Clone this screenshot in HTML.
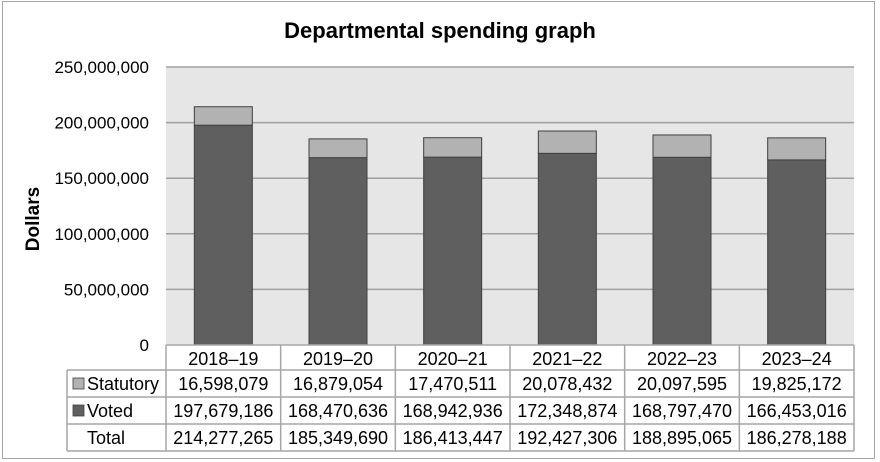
<!DOCTYPE html>
<html><head><meta charset="utf-8"><style>
body{margin:0;background:#fff;}
svg{display:block;font-family:"Liberation Sans",Arial,sans-serif;}
</style></head><body>
<svg width="880" height="462" viewBox="0 0 880 462">
<rect x="2.5" y="1.5" width="872" height="457" fill="#fff" stroke="#a6a6a6"/>
<text x="440" y="38" text-anchor="middle" font-size="22" font-weight="bold" fill="#000">Departmental spending graph</text>
<rect x="166" y="67" width="688" height="278" fill="#e6e6e6"/>
<text transform="translate(39,219) rotate(-90)" text-anchor="middle" font-size="19" font-weight="bold">Dollars</text>
<g id="grid"></g><g id="bars"></g><g id="table"></g>
</svg>
<script>
const categories=["2018–19","2019–20","2020–21","2021–22","2022–23","2023–24"];
const statutory=[16598079,16879054,17470511,20078432,20097595,19825172];
const voted=[197679186,168470636,168942936,172348874,168797470,166453016];
const totals=[214277265,185349690,186413447,192427306,188895065,186278188];
const yTicks=[0,50000000,100000000,150000000,200000000,250000000];
const NS="http://www.w3.org/2000/svg";
const X0=166,X1=854,Y0=345,Y1=67,YMAX=250000000;
const bw=(X1-X0)/categories.length;
function y(v){return Y0-(v/YMAX)*(Y0-Y1);}
function xc(i){return X0+bw*(i+0.5);}
function mk(tag,attrs,parent,txt){const e=document.createElementNS(NS,tag);for(const k in attrs)e.setAttribute(k,attrs[k]);if(txt!==undefined)e.textContent=txt;parent.appendChild(e);return e;}
const fmt=n=>n.toLocaleString("en-US");
const grid=document.getElementById("grid"),bars=document.getElementById("bars"),table=document.getElementById("table");
yTicks.forEach(t=>{
  if(t>0){const l=mk("line",{x1:X0,x2:X1,y1:y(t),y2:y(t),stroke:"#a0a0a0","stroke-width":1.5},grid);
  
  }
  const tx=mk("text",{x:149,y:y(t)+6,"text-anchor":"end","font-size":17},grid,fmt(t));
  
  
});
categories.forEach((c,i)=>{
  const w=58,x=xc(i)-w/2;
  const v=mk("rect",{x:x,y:y(voted[i]),width:w,height:y(0)-y(voted[i]),fill:"#5f5f5f",stroke:"#404040","stroke-width":1},bars);
  
  
  const s=mk("rect",{x:x,y:y(voted[i]+statutory[i]),width:w,height:y(voted[i])-y(voted[i]+statutory[i]),fill:"#b2b2b2",stroke:"#404040","stroke-width":1},bars);
  
  
});
const rows=[345,370,397,424,451];
const lc="#a6a6a6";
mk("line",{x1:X0,x2:X1,y1:345,y2:345,stroke:lc,"stroke-width":1.5},table);
for(let r=1;r<5;r++)mk("line",{x1:67,x2:X1,y1:rows[r],y2:rows[r],stroke:lc,"stroke-width":1.5},table);
mk("line",{x1:67,x2:67,y1:370,y2:451,stroke:lc,"stroke-width":1.5},table);
for(let i=0;i<=categories.length;i++)mk("line",{x1:X0+bw*i,x2:X0+bw*i,y1:345,y2:451,stroke:lc,"stroke-width":1.5},table);
const data=[categories,statutory.map(fmt),voted.map(fmt),totals.map(fmt)];
const rowNames=["category-label","statutory-value","voted-value","total-value"];
data.forEach((row,r)=>row.forEach((v,i)=>{
  const t=mk("text",{x:xc(i),y:rows[r]+20,"text-anchor":"middle","font-size":18},table,v);
  
  
}));
const legend=[["Statutory","#b2b2b2"],["Voted","#5f5f5f"],["Total",null]];
legend.forEach((l,k)=>{
  const yy=rows[k+1];
  if(l[1]){const sw=mk("rect",{x:73,y:yy+8,width:11,height:11,fill:l[1],stroke:"#404040","stroke-width":0.8},table);
  
  }
  const t=mk("text",{x:87,y:yy+20,"font-size":18},table,l[0]);
  
  
});
</script>
</body></html>
